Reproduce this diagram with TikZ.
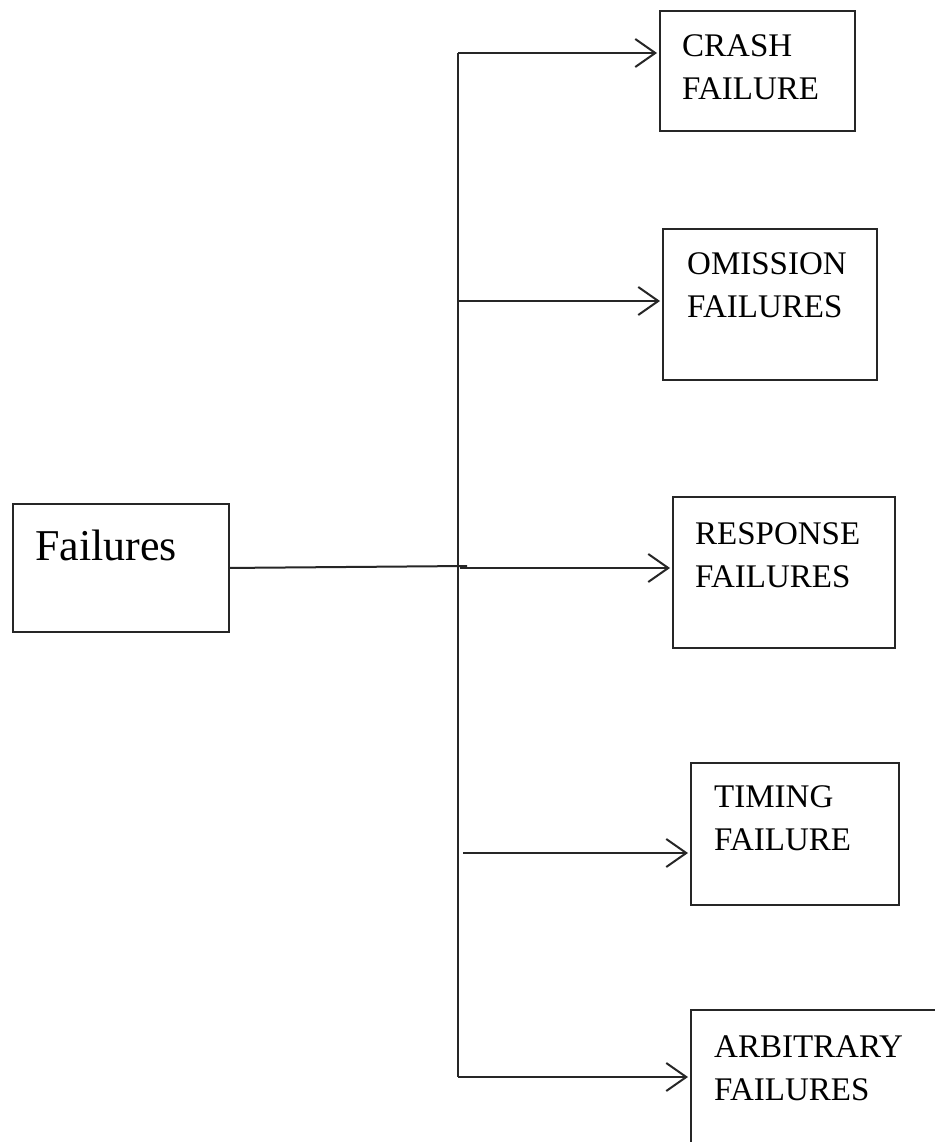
\documentclass[tikz,border=0pt]{standalone}
\usepackage{fontspec}
\setmainfont{Liberation Serif}
\usetikzlibrary{arrows.meta}
\begin{document}
\begin{tikzpicture}[x=1pt,y=-1pt,
  fbox/.style={draw=black!85, line width=1.9pt, rectangle, inner sep=0pt, anchor=north west},
  lbl/.style={anchor=base west, align=left, inner sep=0pt, font=\fontsize{33}{43}\selectfont},
  biglbl/.style={anchor=base west, align=left, inner sep=0pt, font=\fontsize{44}{52}\selectfont},
  wire/.style={draw=black!85, line width=2pt},
  arr/.style={wire, -{Straight Barb[length=20pt, width=28pt, line width=2pt]}, shorten >=2pt}]
\useasboundingbox (0,0) rectangle (934,1142);
\fill[white] (0,0) rectangle (934,1142);
% boxes
\node[fbox, minimum width=216pt, minimum height=128pt] (fail) at (12,503) {};
\node[fbox, minimum width=195pt, minimum height=120pt] (crash) at (659,10) {};
\node[fbox, minimum width=214pt, minimum height=151pt] (omis) at (662,228) {};
\node[fbox, minimum width=222pt, minimum height=151pt] (resp) at (672,496) {};
\node[fbox, minimum width=208pt, minimum height=142pt] (timing) at (690,762) {};
\node[fbox, minimum width=260pt, minimum height=150pt] (arb) at (690,1009) {};
% texts (anchor: baseline of the last line)
\node[biglbl] (fail-t) at (35,560) {Failures};
\node[lbl] (crash-t) at (682,100) {CRASH\\FAILURE};
\node[lbl] (omis-t) at (687,317) {OMISSION\\FAILURES};
\node[lbl] (resp-t) at (695,587) {RESPONSE\\FAILURES};
\node[lbl] (timing-t) at (714,850) {TIMING\\FAILURE};
\node[lbl] (arb-t) at (714,1100) {ARBITRARY\\FAILURES};
% bus
\coordinate (b1) at (458,53);
\coordinate (b2) at (458,301);
\coordinate (b3) at (460,568);
\coordinate (b4) at (463,853);
\coordinate (b5) at (458,1077);
\coordinate (j) at (467,566);
\draw[wire] (b1) -- (b5);
\draw[wire] (fail.east) -- (j);
\draw[arr] (b1) -- (b1 -| crash.west);
\draw[arr] (b2) -- (b2 -| omis.west);
\draw[arr] (b3) -- (b3 -| resp.west);
\draw[arr] (b4) -- (b4 -| timing.west);
\draw[arr] (b5) -- (b5 -| arb.west);
\end{tikzpicture}
\end{document}
